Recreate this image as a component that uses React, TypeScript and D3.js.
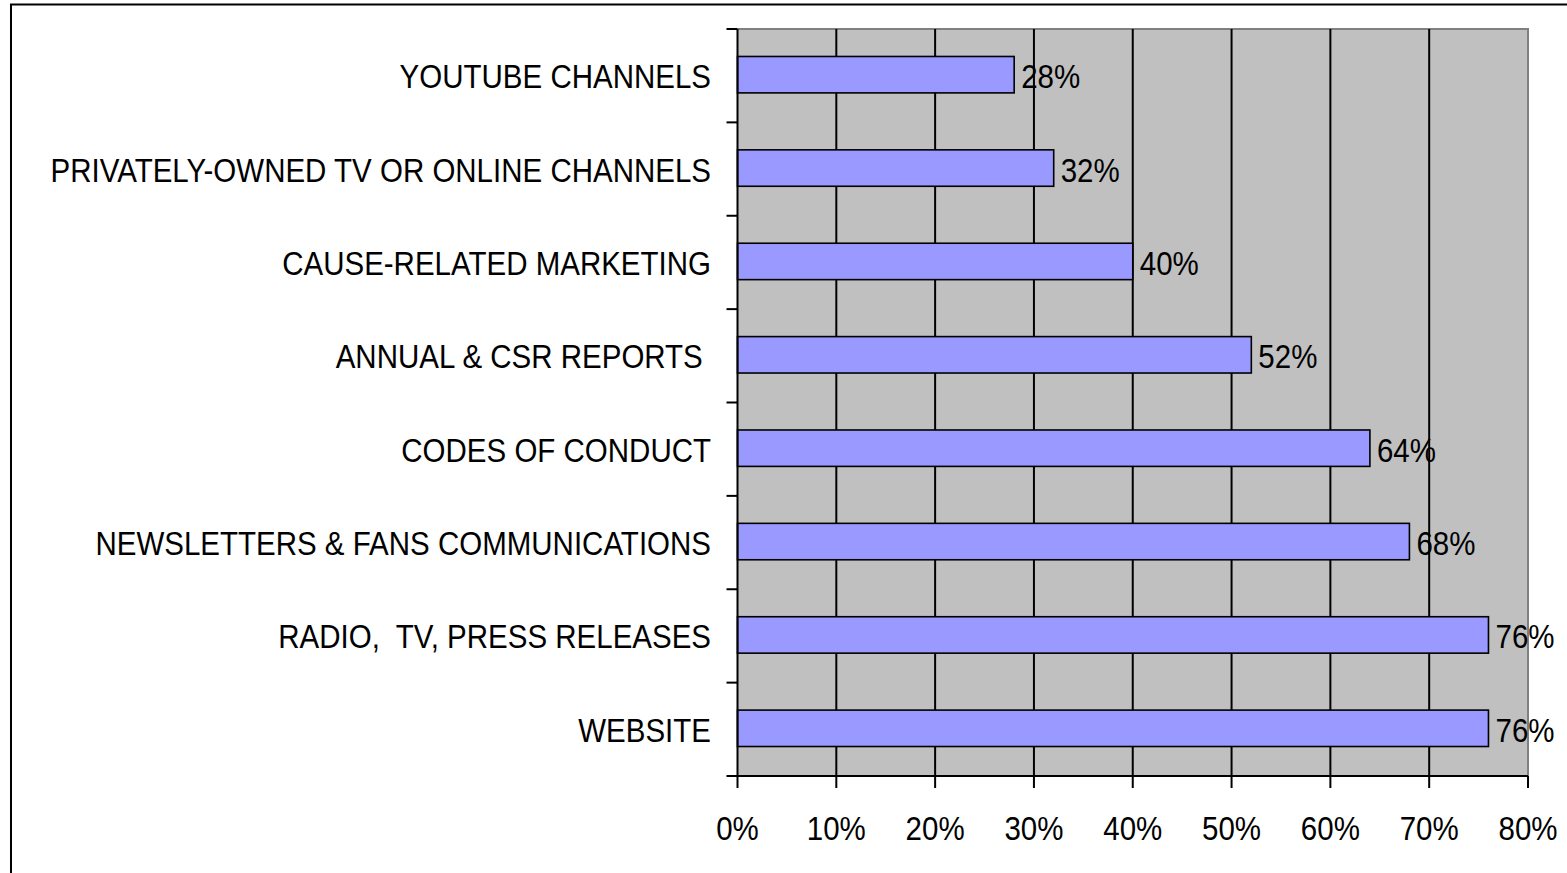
import React, { useRef, useEffect } from "react";
import * as d3 from "d3";

const categories = [
  "YOUTUBE CHANNELS",
  "PRIVATELY-OWNED TV OR ONLINE CHANNELS",
  "CAUSE-RELATED MARKETING",
  "ANNUAL & CSR REPORTS ",
  "CODES OF CONDUCT",
  "NEWSLETTERS & FANS COMMUNICATIONS",
  "RADIO,  TV, PRESS RELEASES",
  "WEBSITE",
];
const values = [0.28, 0.32, 0.4, 0.52, 0.64, 0.68, 0.76, 0.76];
const xTicks = [0, 0.1, 0.2, 0.3, 0.4, 0.5, 0.6, 0.7, 0.8];

const App = () => {
  const ref = useRef<SVGSVGElement>(null);

  useEffect(() => {
    const svg = d3.select(ref.current);
    svg.selectAll("*").remove();

    const width = 1567;
    const height = 873;
    const plot = { left: 737.5, right: 1528, top: 29, bottom: 776 };
    const font = "'Liberation Sans', Arial, sans-serif";
    const fontSize = 29.5;
    const stretch = 1.12; // text in the source is a bit taller than wide

    const place = (px: number, py: number) => `translate(${px},${py}) scale(1,${stretch})`;

    svg.append("rect").attr("width", width).attr("height", height).attr("fill", "#fff");

    // outer frame (cut off on the right and bottom)
    svg
      .append("rect")
      .attr("x", 11)
      .attr("y", 4.5)
      .attr("width", width + 20)
      .attr("height", height + 20)
      .attr("fill", "none")
      .attr("stroke", "#000")
      .attr("stroke-width", 2);

    const x = d3.scaleLinear().domain([0, 0.8]).range([plot.left, plot.right]);
    const y = d3
      .scaleBand()
      .domain(categories)
      .range([plot.top, plot.bottom])
      .paddingInner(0.61)
      .paddingOuter(0.305);

    // plot background
    svg
      .append("rect")
      .attr("x", plot.left)
      .attr("y", plot.top)
      .attr("width", plot.right - plot.left)
      .attr("height", plot.bottom - plot.top)
      .attr("fill", "#c0c0c0");

    // top/right plot border
    svg
      .append("path")
      .attr("d", `M${plot.left},${plot.top}H${plot.right}V${plot.bottom}`)
      .attr("fill", "none")
      .attr("stroke", "#808080")
      .attr("stroke-width", 2);

    // gridlines
    svg
      .append("g")
      .selectAll("line")
      .data(xTicks.slice(1, -1))
      .join("line")
      .attr("x1", (d) => x(d))
      .attr("x2", (d) => x(d))
      .attr("y1", plot.top)
      .attr("y2", plot.bottom)
      .attr("stroke", "#000")
      .attr("stroke-width", 2);

    // bars
    svg
      .append("g")
      .selectAll("rect")
      .data(values)
      .join("rect")
      .attr("x", x(0))
      .attr("y", (d, i) => y(categories[i])! - 1)
      .attr("width", (d) => x(d) - x(0))
      .attr("height", y.bandwidth())
      .attr("fill", "#9999ff")
      .attr("stroke", "#000")
      .attr("stroke-width", 1.6);

    // value labels
    svg
      .append("g")
      .selectAll("text")
      .data(values)
      .join("text")
      .attr("transform", (d, i) =>
        place(x(d) + 7, y(categories[i])! + y.bandwidth() / 2 + 12.5)
      )
      .attr("font-family", font)
      .attr("font-size", fontSize)
      .attr("fill", "#000")
      .text((d) => `${Math.round(d * 100)}%`);

    // y axis line + ticks
    svg
      .append("line")
      .attr("x1", plot.left)
      .attr("x2", plot.left)
      .attr("y1", plot.top)
      .attr("y2", plot.bottom)
      .attr("stroke", "#000")
      .attr("stroke-width", 2);

    const step = y.step();
    svg
      .append("g")
      .selectAll("line")
      .data(d3.range(categories.length + 1))
      .join("line")
      .attr("x1", plot.left - 11)
      .attr("x2", plot.left)
      .attr("y1", (i) => plot.top + i * step)
      .attr("y2", (i) => plot.top + i * step)
      .attr("stroke", "#000")
      .attr("stroke-width", 2);

    svg
      .append("g")
      .selectAll("text")
      .data(categories)
      .join("text")
      .attr("transform", (d) => place(711, y(d)! + y.bandwidth() / 2 + 12.5))
      .attr("text-anchor", "end")
      .attr("font-family", font)
      .attr("font-size", fontSize)
      .attr("fill", "#000")
      .style("white-space", "pre")
      .text((d) => d);

    // x axis
    svg
      .append("line")
      .attr("x1", plot.left)
      .attr("x2", plot.right)
      .attr("y1", plot.bottom)
      .attr("y2", plot.bottom)
      .attr("stroke", "#000")
      .attr("stroke-width", 2);

    svg
      .append("g")
      .selectAll("line")
      .data(xTicks)
      .join("line")
      .attr("x1", (d) => x(d))
      .attr("x2", (d) => x(d))
      .attr("y1", plot.bottom)
      .attr("y2", plot.bottom + 12)
      .attr("stroke", "#000")
      .attr("stroke-width", 2);

    svg
      .append("g")
      .selectAll("text")
      .data(xTicks)
      .join("text")
      .attr("transform", (d) => place(x(d), 840))
      .attr("text-anchor", "middle")
      .attr("font-family", font)
      .attr("font-size", fontSize)
      .attr("fill", "#000")
      .text((d) => `${Math.round(d * 100)}%`);
  }, []);

  return (
    <svg
      ref={ref}
      width={1567}
      height={873}
      style={{ position: "absolute", left: 0, top: 0, display: "block" }}
    ></svg>
  );
};

export default App;
